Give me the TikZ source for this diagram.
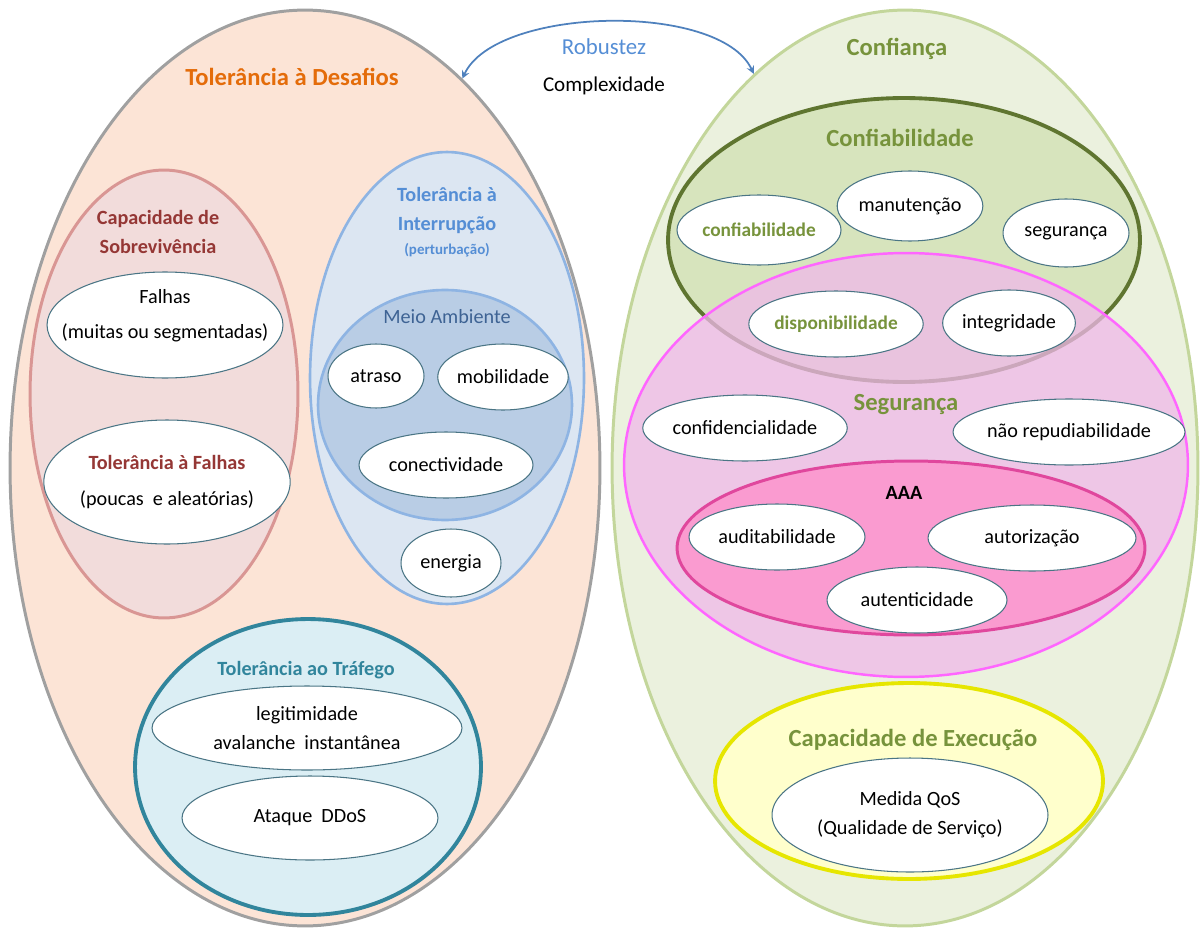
\documentclass[tikz,border=0pt]{standalone}
\usepackage{fontspec}
\setmainfont{Carlito}
\usetikzlibrary{shapes.geometric}
\definecolor{peach}{HTML}{FCE4D6}
\definecolor{grayline}{HTML}{A0A0A0}
\definecolor{sage}{HTML}{EBF1DE}
\definecolor{sageline}{HTML}{C3D69B}
\definecolor{rosefill}{HTML}{F2DCDB}
\definecolor{roseline}{HTML}{D99694}
\definecolor{darkred}{HTML}{953735}
\definecolor{bluefill}{HTML}{DCE6F2}
\definecolor{blueline}{HTML}{8EB4E3}
\definecolor{bluetext}{HTML}{558ED5}
\definecolor{meiofill}{HTML}{B9CDE5}
\definecolor{meiotext}{HTML}{3E6394}
\definecolor{tealfill}{HTML}{DBEEF4}
\definecolor{teal}{HTML}{31859C}
\definecolor{olivefill}{HTML}{D7E4BD}
\definecolor{oliveline}{HTML}{5F7530}
\definecolor{olive}{HTML}{77933C}
\definecolor{pinkfill}{HTML}{F0B8EA}
\definecolor{pinkline}{HTML}{FF66FF}
\definecolor{aaafill}{HTML}{FA9BD0}
\definecolor{aaaline}{HTML}{E0479D}
\definecolor{yellowfill}{HTML}{FFFFCC}
\definecolor{yellowline}{HTML}{E6E600}
\definecolor{orangetext}{HTML}{E46C0A}
\definecolor{itemline}{HTML}{4A7585}
\definecolor{arrowblue}{HTML}{4F81BD}
\begin{document}
\begin{tikzpicture}[x=0.02cm, y=-0.02cm,
  blob/.style={ellipse, draw, inner sep=0pt},
  item/.style={ellipse, draw=itemline, fill=white, line width=0.6pt, inner sep=0pt,
    align=center, font=\fontsize{11.5}{14}\selectfont},
  bigtitle/.style={font=\bfseries\fontsize{14}{17}\selectfont, text=olive},
  subtitle/.style={font=\bfseries\fontsize{11.5}{16.5}\selectfont, align=center}]
  \useasboundingbox (0,0) rectangle (1202,929);
  % Outer ellipses
  \node (desafios) [blob, fill=peach, draw=grayline, line width=1.7pt, minimum width=11.8cm, minimum height=18.32cm] at (305,468) {};
  \node (confianca) [blob, fill=sage, draw=sageline, line width=1.7pt, minimum width=11.72cm, minimum height=18.32cm] at (905,468) {};
  % Titles
  \node (tdesafios) [font=\bfseries\fontsize{14}{17}\selectfont, text=orangetext] at (292,77) {Tolerância à Desafios};
  \node (tconfianca) [bigtitle] at (897,49) {Confiança};
  \node (robustez) [font=\fontsize{13}{16}\selectfont, text=bluetext] at (604,47) {Robustez};
  \node (complex) [font=\fontsize{12}{14}\selectfont] at (604,86) {Complexidade};
  % Arrows
  \draw[<->, >=stealth, arrowblue, line width=1pt] (desafios.68) to[out=65, in=115, looseness=0.7] (confianca.111);
  % Left side
  \node (sobrev) [blob, fill=rosefill, draw=roseline, line width=1.7pt, minimum width=5.36cm, minimum height=8.96cm] at (164,394) {};
  \node (tsobrev) [subtitle, text=darkred] at (158,232) {Capacidade de\\Sobrevivência};
  \node (falhas) [item, minimum width=4.72cm, minimum height=2.12cm] at (165,325) {};
  \node (tfalhas) [font=\fontsize{11.5}{14}\selectfont, align=center] at (165,316) {Falhas\\[6pt](muitas ou segmentadas)};
  \node (tolfalhas) [item, minimum width=4.52cm, minimum height=2.48cm] at (167,482) {\textbf{\color{darkred}Tolerância à Falhas}\\[6pt](poucas\ \ e aleatórias)};
  \node (interrup) [blob, fill=bluefill, draw=blueline, line width=1.5pt, minimum width=5.48cm, minimum height=9.04cm] at (447,378) {};
  \node (tinterrup) [subtitle, text=bluetext] at (447,222) {Tolerância à\\Interrupção\\[-3pt]{\fontsize{8.5}{10}\selectfont(perturbação)}};
  \node (meio) [blob, fill=meiofill, draw=blueline, line width=1.5pt, minimum width=5.08cm, minimum height=4.6cm] at (445,405) {};
  \node (tmeio) [font=\fontsize{11.5}{14}\selectfont, text=meiotext] at (447,317) {Meio Ambiente};
  \node (atraso) [item, minimum width=1.92cm, minimum height=1.28cm] at (376,376) {atraso};
  \node (mobil) [item, minimum width=2.48cm, minimum height=1.32cm] at (503,377) {mobilidade};
  \node (conect) [item, minimum width=3.48cm, minimum height=1.32cm] at (446,465) {conectividade};
  \node (energia) [item, minimum width=2cm, minimum height=1.36cm] at (451,563) {energia};
  \node (trafego) [blob, fill=tealfill, draw=teal, line width=2.2pt, minimum width=6.92cm, minimum height=5.92cm] at (308,767) {};
  \node (ttrafego) [subtitle, text=teal] at (306,670) {Tolerância ao Tráfego};
  \node (legit) [item, minimum width=6.2cm, minimum height=1.68cm, font=\fontsize{11.5}{17}\selectfont] at (307,728) {legitimidade\\avalanche\ \ instantânea};
  \node (ddos) [item, minimum width=5.12cm, minimum height=1.68cm] at (310,818) {Ataque\ \ DDoS};
  % Right side
  \node (confiab) [blob, fill=olivefill, draw=oliveline, line width=2.2pt, minimum width=9.44cm, minimum height=5.68cm] at (904,240) {};
  \node (tconfiab) [bigtitle] at (900,138) {Confiabilidade};
  \node (cfb) [item, minimum width=3.28cm, minimum height=1.4cm, font=\bfseries\fontsize{11}{14}\selectfont, text=olive] at (759,230) {confiabilidade};
  \node (manut) [item, minimum width=2.52cm, minimum height=1.4cm] at (910,206) {manutenção};
  \node (segsmall) [item, minimum width=2.52cm, minimum height=1.36cm] at (1066,233) {segurança};
  \node (seguranca) [blob, fill=pinkfill, fill opacity=0.75, draw=pinkline, draw opacity=1, line width=1.4pt, minimum width=11.28cm, minimum height=8.48cm] at (906,465) {};
  \node (tseguranca) [bigtitle] at (906,405) {Segurança};
  \node (dispon) [item, minimum width=3.28cm, minimum height=1.32cm, font=\bfseries\fontsize{11}{14}\selectfont, text=olive] at (836,324) {disponibilidade};
  \node (integr) [item, minimum width=2.52cm, minimum height=1.32cm] at (1009,323) {integridade};
  \node (confid) [item, minimum width=3.68cm, minimum height=1.32cm] at (745,428) {confidencialidade};
  \node (naorep) [item, minimum width=4.2cm, minimum height=1.32cm] at (1069,432) {não repudiabilidade};
  \node (aaa) [blob, fill=aaafill, draw=aaaline, line width=1.7pt, minimum width=9.36cm, minimum height=3.48cm] at (911,548) {};
  \node (taaa) [font=\bfseries\fontsize{11.5}{14}\selectfont] at (904,493) {AAA};
  \node (audit) [item, minimum width=3.52cm, minimum height=1.32cm] at (777,537) {auditabilidade};
  \node (autoriz) [item, minimum width=4.16cm, minimum height=1.32cm] at (1032,538) {autorização};
  \node (autent) [item, minimum width=3.6cm, minimum height=1.32cm] at (917,600) {autenticidade};
  \node (execucao) [blob, fill=yellowfill, draw=yellowline, line width=2.2pt, minimum width=7.76cm, minimum height=3.92cm] at (909,781) {};
  \node (texecucao) [bigtitle] at (913,740) {Capacidade de Execução};
  \node (qos) [item, minimum width=5.52cm, minimum height=2.28cm, font=\fontsize{11.5}{16.5}\selectfont] at (910,815) {Medida QoS\\(Qualidade de Serviço)};
\end{tikzpicture}
\end{document}
